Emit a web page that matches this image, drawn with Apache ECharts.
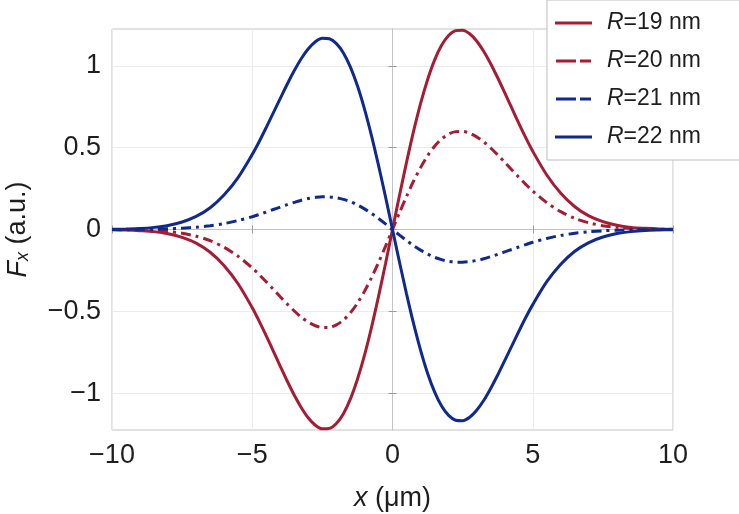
<!DOCTYPE html>
<html><head><meta charset="utf-8">
<script src="https://cdn.jsdelivr.net/npm/echarts@6/dist/echarts.min.js"></script>
<style>html,body{margin:0;padding:0;background:#fff}#c{width:739px;height:514px}</style>
</head><body><div id="c"></div>
<script>
var xValues = [-10,-9.5,-9,-8.5,-8,-7.5,-7,-6.5,-6,-5.5,-5,-4.75,-4.5,-4.25,-4,-3.75,-3.5,-3.25,-3,-2.75,-2.5,-2.25,-2,-1.75,-1.5,-1.25,-1,-0.75,-0.5,-0.25,
  0,
  0.25,0.5,0.75,1,1.25,1.5,1.75,2,2.25,2.5,2.75,3,3.25,3.5,3.75,4,4.25,4.5,4.75,5,5.5,6,6.5,7,7.5,8,8.5,9,9.5,10];
var seriesNames = ['R=19 nm','R=20 nm','R=21 nm','R=22 nm'];
var r19 = [-0.001,-0.003,-0.007,-0.013,-0.026,-0.048,-0.083,-0.139,-0.221,-0.333,-0.478,-0.561,-0.650,-0.743,-0.836,-0.927,-1.013,-1.089,-1.152,-1.196,-1.218,-1.215,-1.185,-1.125,-1.035,-0.915,-0.769,-0.599,-0.410,-0.209,
  0,
  0.209,0.410,0.599,0.769,0.915,1.035,1.125,1.185,1.215,1.218,1.196,1.152,1.089,1.013,0.927,0.836,0.743,0.650,0.561,0.478,0.333,0.221,0.139,0.083,0.048,0.026,0.013,0.007,0.003,0.001];
var r20 = [-0.0006,-0.0015,-0.003,-0.007,-0.013,-0.023,-0.041,-0.068,-0.109,-0.164,-0.235,-0.276,-0.320,-0.365,-0.411,-0.456,-0.498,-0.536,-0.566,-0.588,-0.599,-0.598,-0.583,-0.553,-0.509,-0.450,-0.378,-0.295,-0.202,-0.103,
  0,
  0.103,0.202,0.295,0.378,0.450,0.509,0.553,0.583,0.598,0.599,0.588,0.566,0.536,0.498,0.456,0.411,0.365,0.320,0.276,0.235,0.164,0.109,0.068,0.041,0.023,0.013,0.007,0.003,0.0015,0.0006];
var r21 = [0,0,0.001,0.002,0.004,0.008,0.014,0.023,0.036,0.055,0.078,0.092,0.107,0.122,0.137,0.152,0.166,0.179,0.189,0.196,0.200,0.199,0.194,0.184,0.170,0.150,0.126,0.098,0.067,0.034,
  0,
  -0.034,-0.067,-0.098,-0.126,-0.150,-0.170,-0.184,-0.194,-0.199,-0.200,-0.196,-0.189,-0.179,-0.166,-0.152,-0.137,-0.122,-0.107,-0.092,-0.078,-0.055,-0.036,-0.023,-0.014,-0.008,-0.004,-0.002,-0.001,0,0];
var r22 = [0.001,0.003,0.006,0.013,0.025,0.046,0.080,0.133,0.212,0.319,0.459,0.538,0.624,0.713,0.801,0.889,0.971,1.045,1.104,1.147,1.168,1.165,1.136,1.079,0.992,0.878,0.737,0.574,0.393,0.200,
  0,
  -0.200,-0.393,-0.574,-0.737,-0.878,-0.992,-1.079,-1.136,-1.165,-1.168,-1.147,-1.104,-1.045,-0.971,-0.889,-0.801,-0.713,-0.624,-0.538,-0.459,-0.319,-0.212,-0.133,-0.080,-0.046,-0.025,-0.013,-0.006,-0.003,-0.001];
var xTicks = [-10,-5,0,5,10];
var yTicks = [-1,-0.5,0,0.5,1];

var RED = '#a51c33', BLUE = '#10298c';
var FONT = 'Liberation Sans, Arial, Helvetica, sans-serif';
var TXT = '#1e1e1e';
function pair(arr){ return xValues.map(function(x,i){ return [x, arr[i]]; }); }
function fmt(v){ return String(v).replace('-', '\u2212'); }

var chart = echarts.init(document.getElementById('c'), null, {renderer:'canvas'});
var axisGray = '#c4c4c4';
var tickStyle = {color:'#9a9a9a'};
var dataSets = [r19, r20, r21, r22];
var colors = [RED, RED, BLUE, BLUE];
var dashes = ['solid', [10,5,3,5], [10,5,3,5], 'solid'];
var SOLID_ICON = 'path://M0,0h37v3h-37z';
var DASH_ICON = 'path://M0,0h20v3h-20zM24,0h11v3h-11z';
var icons = [SOLID_ICON, DASH_ICON, DASH_ICON, SOLID_ICON];
var series = seriesNames.map(function(n, i){
  return {
    name:n, type:'line', data:pair(dataSets[i]), smooth:0.3, symbol:'none', showSymbol:false,
    lineStyle:{color:colors[i], width:3, type:dashes[i]}, itemStyle:{color:colors[i]},
    xAxisIndex:0, yAxisIndex:0, z: 2+i
  };
});

chart.setOption({
  backgroundColor:'#fff',
  animation:false,
  grid:{left:112, right:66, top:29, bottom:84, show:true, borderColor:axisGray, borderWidth:1, backgroundColor:'transparent',
    containLabel:false, outerBoundsMode:'none'},
  legend:{
    data:seriesNames.map(function(n,i){ return {name:n, icon:icons[i]}; }),
    orient:'vertical', left:547, top:0,
    padding:[11,60,11,8], itemWidth:37, itemHeight:3, itemGap:14,
    backgroundColor:'#fff', borderColor:'#bdbdbd', borderWidth:1,
    formatter:function(n){ return '{i|R}' + n.slice(1); },
    textStyle:{fontFamily:FONT, fontSize:23, lineHeight:24, color:TXT, padding:[0,0,0,10],
      rich:{i:{fontStyle:'italic', fontFamily:FONT, fontSize:23, lineHeight:24, color:TXT}}}
  },
  xAxis:[
    {type:'value', min:-10, max:10, interval:5, position:'bottom',
      axisLine:{show:true, lineStyle:{color:axisGray, width:1}},
      axisTick:{show:true, inside:true, length:4, customValues:xTicks, lineStyle:tickStyle},
      splitLine:{show:true, lineStyle:{color:'#ebebeb', width:1}},
      axisLabel:{fontFamily:FONT, fontSize:27, color:TXT, margin:12, formatter:fmt, customValues:xTicks},
      name:'{i|x} (\u03bcm)', nameLocation:'middle', nameGap:55,
      nameTextStyle:{fontFamily:FONT, fontSize:27, color:TXT, rich:{i:{fontStyle:'italic', fontFamily:FONT, fontSize:27, color:TXT}}}
    },
    {type:'value', min:-10, max:10, interval:5, position:'top', axisLabel:{show:false}, splitLine:{show:false},
      axisLine:{show:true, lineStyle:{color:axisGray}}, axisTick:{show:true, inside:true, length:4, lineStyle:tickStyle}}
  ],
  yAxis:[
    {type:'value', min:-1.225, max:1.225,
      axisLine:{show:true, lineStyle:{color:axisGray, width:1}},
      axisTick:{show:true, inside:true, length:4, customValues:yTicks, lineStyle:tickStyle},
      splitLine:{show:true, lineStyle:{color:'#ebebeb', width:1}},
      axisLabel:{fontFamily:FONT, fontSize:27, color:TXT, margin:11, formatter:fmt, customValues:yTicks},
      name:'{i|F}{s|x} (a.u.)', nameLocation:'middle', nameGap:80, nameRotate:90,
      nameTextStyle:{fontFamily:FONT, fontSize:27, color:TXT, rich:{
        i:{fontStyle:'italic', fontFamily:FONT, fontSize:27, color:TXT},
        s:{fontStyle:'italic', fontFamily:FONT, fontSize:18, color:TXT, verticalAlign:'bottom', padding:[10,0,0,0]}}}
    },
    {type:'value', min:-1.225, max:1.225, position:'right', axisLabel:{show:false}, splitLine:{show:false},
      axisLine:{show:true, lineStyle:{color:axisGray}}, axisTick:{show:true, inside:true, length:4, customValues:yTicks, lineStyle:tickStyle}}
  ],
  series:series
});
</script></body></html>
